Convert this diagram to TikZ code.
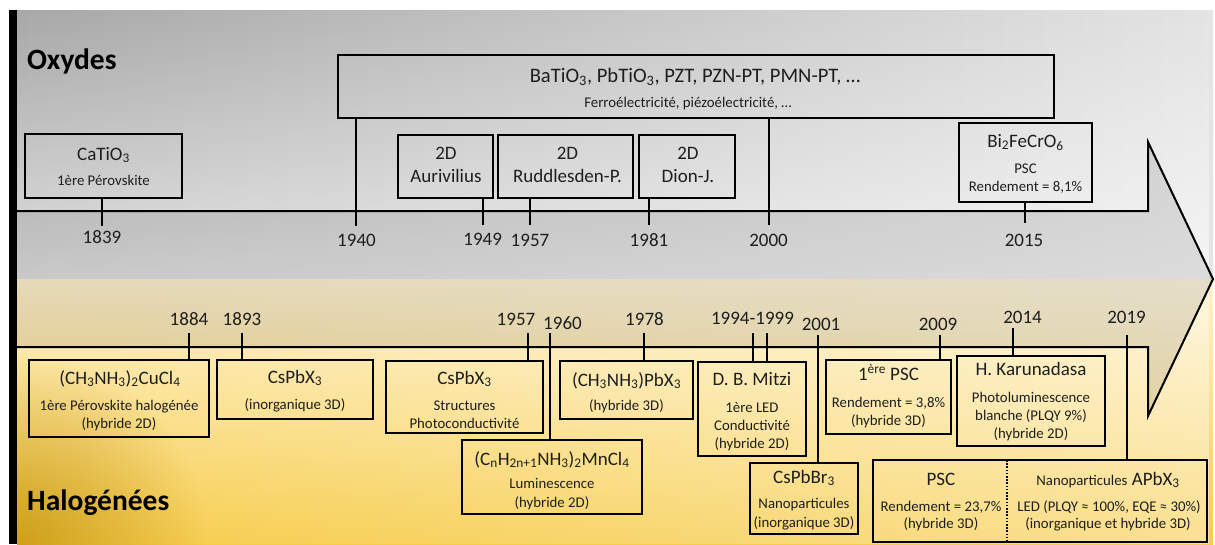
\documentclass[tikz,border=0pt]{standalone}
\usepackage{fontspec}
\setmainfont{Carlito}
\usetikzlibrary{fadings}
\definecolor{txt}{HTML}{1E1E1E}
\definecolor{gTL}{HTML}{A8A8A8}
\definecolor{gTR}{HTML}{E4E4E4}
\definecolor{yTop}{HTML}{FFF3CF}
\definecolor{yMid}{HTML}{FDE49A}
\definecolor{yBot}{HTML}{F7CC48}
\definecolor{yDark}{HTML}{BC8C08}
\tikzfading[name=blobfade, inner color=transparent!0, outer color=transparent!100]
\begin{document}
\begin{tikzpicture}[x=1pt,y=-1pt,
  box/.style={draw=black, line width=2.4pt, inner sep=0pt, outer sep=0pt},
  tickline/.style={line width=2.4pt},
  ttl/.style={font=\fontsize{19}{22}\selectfont, text=txt, inner sep=0pt, anchor=base},
  sml/.style={font=\fontsize{14.8}{17}\selectfont, text=txt, inner sep=0pt, anchor=base},
  yr/.style={font=\fontsize{19}{22}\selectfont, text=txt, inner sep=0pt, anchor=base},
  head/.style={font=\fontsize{29.5}{32}\selectfont\bfseries, text=black, inner sep=0pt, anchor=base west},
  divline/.style={line width=2.4pt, dash pattern=on 1.6pt off 1.6pt}
]
\useasboundingbox (0,0) rectangle (1215,544);
\fill[white] (0,0) rectangle (1215,544);
% backgrounds
\shade[left color=gTL, right color=gTR] (17,10) rectangle (1213,279);
\fill[white, path fading=north, fill opacity=.65] (17,10) rectangle (1213,279);
\shade[top color=yTop, middle color=yMid, bottom color=yBot] (17,279) rectangle (1213,544);
\fill[white, path fading=west, fill opacity=.4] (17,279) rectangle (1213,544);
\begin{scope}
\clip (17,279) rectangle (1213,544);
\fill[yDark, path fading=blobfade, fill opacity=.7] (17,544) circle (190);
\end{scope}
% arrow
\draw[line width=2pt, fill=black, fill opacity=0.1] (17,211) -- (1148,211) -- (1148,142) -- (1213,279) -- (1148,416) -- (1148,347) -- (17,347);
% left bar
\fill[black] (9,10) rectangle (17,544);

% headings
\node[head] (oxy) at (27,69) {Oxydes};
\node[head] (hal) at (27,510) {Halogénées};

% ---------- top boxes ----------
\node[box, minimum width=157pt, minimum height=64pt] (b1839) at (103.5,166) {};
\node[box, minimum width=716pt, minimum height=63pt] (bBa) at (696,86.5) {};
\node[box, minimum width=95pt, minimum height=63pt] (b1949) at (445.5,166.5) {};
\node[box, minimum width=135pt, minimum height=63pt] (b1957t) at (565.5,166.5) {};
\node[box, minimum width=96pt, minimum height=63pt] (b1981) at (687,166.5) {};
\node[box, minimum width=133pt, minimum height=79pt] (b2015) at (1025.5,162.5) {};

\node[ttl] (n1839a) at (103.5,160) {CaTiO\textsubscript{3}};
\node[sml] (n1839b) at (103.5,185) {1ère Pérovskite};
\node[ttl, font=\fontsize{20.6}{23}\selectfont] (nBa1) at (695,82) {BaTiO\textsubscript{3}, PbTiO\textsubscript{3}, PZT, PZN-PT, PMN-PT, …};
\node[sml] (nBa2) at (688,107) {Ferroélectricité, piézoélectricité, …};
\node[ttl] (n1949a) at (446,159) {2D};
\node[ttl] (n1949b) at (446,182) {Aurivilius};
\node[ttl] (n1957ta) at (567.5,159) {2D};
\node[ttl] (n1957tb) at (567.5,182) {Ruddlesden-P.};
\node[ttl] (n1981a) at (688,159) {2D};
\node[ttl] (n1981b) at (688,182) {Dion-J.};
\node[ttl] (n2015a) at (1025.5,147) {Bi\textsubscript{2}FeCrO\textsubscript{6}};
\node[sml] (n2015b) at (1025.5,173) {PSC};
\node[sml] (n2015c) at (1025.5,191) {Rendement = 8,1\%};

% top ticks
\coordinate (t1839) at (102,226);
\coordinate (t1940) at (356,226);
\coordinate (t1949) at (483,225);
\coordinate (t1957t) at (530,225);
\coordinate (t1981) at (649,225);
\coordinate (t2000) at (769,225);
\coordinate (t2015) at (1025,223);
\draw[tickline] (b1839.south -| t1839) -- (t1839);
\draw[tickline] (bBa.south -| t1940) -- (t1940);
\draw[tickline] (b1949.south -| t1949) -- (t1949);
\draw[tickline] (b1957t.south -| t1957t) -- (t1957t);
\draw[tickline] (b1981.south -| t1981) -- (t1981);
\draw[tickline] (bBa.south -| t2000) -- (t2000);
\draw[tickline] (b2015.south -| t2015) -- (t2015);

\node[yr] (y1839) at (102,243) {1839};
\node[yr] (y1940) at (356.5,246) {1940};
\node[yr] (y1949) at (482.7,245) {1949};
\node[yr] (y1957t) at (530,246) {1957};
\node[yr] (y1981) at (649,246) {1981};
\node[yr] (y2000) at (768.5,246) {2000};
\node[yr] (y2015) at (1024,246) {2015};

% ---------- bottom boxes ----------
\node[box, minimum width=180pt, minimum height=77pt] (b1884) at (119,398.5) {};
\node[box, minimum width=156pt, minimum height=59pt] (b1893) at (295,389.5) {};
\node[box, minimum width=157pt, minimum height=72pt] (b1957) at (464.5,397) {};
\node[box, minimum width=180pt, minimum height=74pt] (b1960) at (552,477) {};
\node[box, minimum width=133pt, minimum height=58pt] (b1978) at (626.5,390) {};
\node[box, minimum width=108pt, minimum height=94pt] (b1994) at (752,409) {};
\node[box, minimum width=108pt, minimum height=71pt] (b2001) at (804,498.5) {};
\node[box, minimum width=125pt, minimum height=74pt] (b2009) at (888.5,397) {};
\node[box, minimum width=148pt, minimum height=90pt] (b2014) at (1031,401) {};
\node[box, minimum width=334pt, minimum height=82pt] (b2019) at (1040,501) {};

\node[ttl] (n1884a) at (120,384) {(CH\textsubscript{3}NH\textsubscript{3})\textsubscript{2}CuCl\textsubscript{4}};
\node[sml] (n1884b) at (119,410) {1ère Pérovskite halogénée};
\node[sml] (n1884c) at (119,428) {(hybride 2D)};
\node[ttl] (n1893a) at (295,383) {CsPbX\textsubscript{3}};
\node[sml] (n1893b) at (295,409) {(inorganique 3D)};
\node[ttl] (n1957a) at (464.5,384) {CsPbX\textsubscript{3}};
\node[sml] (n1957b) at (464.5,410) {Structures};
\node[sml] (n1957c) at (464.5,428) {Photoconductivité};
\node[ttl] (n1960a) at (552,465) {(C\textsubscript{n}H\textsubscript{2n+1}NH\textsubscript{3})\textsubscript{2}MnCl\textsubscript{4}};
\node[sml] (n1960b) at (552,488) {Luminescence};
\node[sml] (n1960c) at (552,507) {(hybride 2D)};
\node[ttl] (n1978a) at (626.5,386) {(CH\textsubscript{3}NH\textsubscript{3})PbX\textsubscript{3}};
\node[sml] (n1978b) at (626.5,410) {(hybride 3D)};
\node[ttl] (n1994a) at (752,385) {D. B. Mitzi};
\node[sml] (n1994b) at (752,412) {1ère LED};
\node[sml] (n1994c) at (752,430) {Conductivité};
\node[sml] (n1994d) at (752,448) {(hybride 2D)};
\node[ttl] (n2001a) at (804,483) {CsPbBr\textsubscript{3}};
\node[sml] (n2001b) at (804,508) {Nanoparticules};
\node[sml] (n2001c) at (804,527) {(inorganique 3D)};
\node[ttl] (n2009a) at (888.5,380) {1\textsuperscript{ère} PSC};
\node[sml] (n2009b) at (888.5,407) {Rendement = 3,8\%};
\node[sml] (n2009c) at (888.5,425) {(hybride 3D)};
\node[ttl] (n2014a) at (1031,375) {H. Karunadasa};
\node[sml] (n2014b) at (1031,402) {Photoluminescence};
\node[sml] (n2014c) at (1031,420) {blanche (PLQY 9\%)};
\node[sml] (n2014d) at (1031,438) {(hybride 2D)};
\node[ttl] (n2019a) at (941,485) {PSC};
\node[sml] (n2019b) at (941,511) {Rendement = 23,7\%};
\node[sml] (n2019c) at (941,528) {(hybride 3D)};
\node[ttl] (n2019d) at (1108,485) {{\fontsize{14.8}{17}\selectfont Nanoparticules} APbX\textsubscript{3}};
\node[sml] (n2019e) at (1109,511) {LED (PLQY ≈ 100\%, EQE ≈ 30\%)};
\node[sml] (n2019f) at (1108,528) {(inorganique et hybride 3D)};
\coordinate (div) at (1007,500);
\draw[divline] (b2019.north -| div) -- (b2019.south -| div);

% bottom ticks
\coordinate (s1884) at (189,333);
\coordinate (s1893) at (242,333);
\coordinate (s1957) at (528,333);
\coordinate (s1960) at (550,333);
\coordinate (s1978) at (644,333);
\coordinate (s1994) at (753,333);
\coordinate (s1999) at (767,333);
\coordinate (s2001) at (818,335);
\coordinate (s2009) at (940,335);
\coordinate (s2014) at (1013,328);
\coordinate (s2019) at (1127,335);
\draw[tickline] (s1884) -- (b1884.north -| s1884);
\draw[tickline] (s1893) -- (b1893.north -| s1893);
\draw[tickline] (s1957) -- (b1957.north -| s1957);
\draw[tickline] (s1960) -- (b1960.north -| s1960);
\draw[tickline] (s1978) -- (b1978.north -| s1978);
\draw[tickline] (s1994) -- (b1994.north -| s1994);
\draw[tickline] (s1999) -- (b1994.north -| s1999);
\draw[tickline] (s2001) -- (b2001.north -| s2001);
\draw[tickline] (s2009) -- (b2009.north -| s2009);
\draw[tickline] (s2014) -- (b2014.north -| s2014);
\draw[tickline] (s2019) -- (b2019.north -| s2019);

\node[yr] (y1884) at (189,325) {1884};
\node[yr] (y1893) at (242,325) {1893};
\node[yr] (y1957) at (516,325) {1957};
\node[yr] (y1960) at (562.5,329) {1960};
\node[yr] (y1978) at (644.5,325) {1978};
\node[yr] (y1994) at (752.5,324) {1994-1999};
\node[yr] (y2001) at (821,330) {2001};
\node[yr] (y2009) at (938,330) {2009};
\node[yr] (y2014) at (1022.5,323) {2014};
\node[yr] (y2019) at (1126.5,323) {2019};
\end{tikzpicture}
\end{document}
